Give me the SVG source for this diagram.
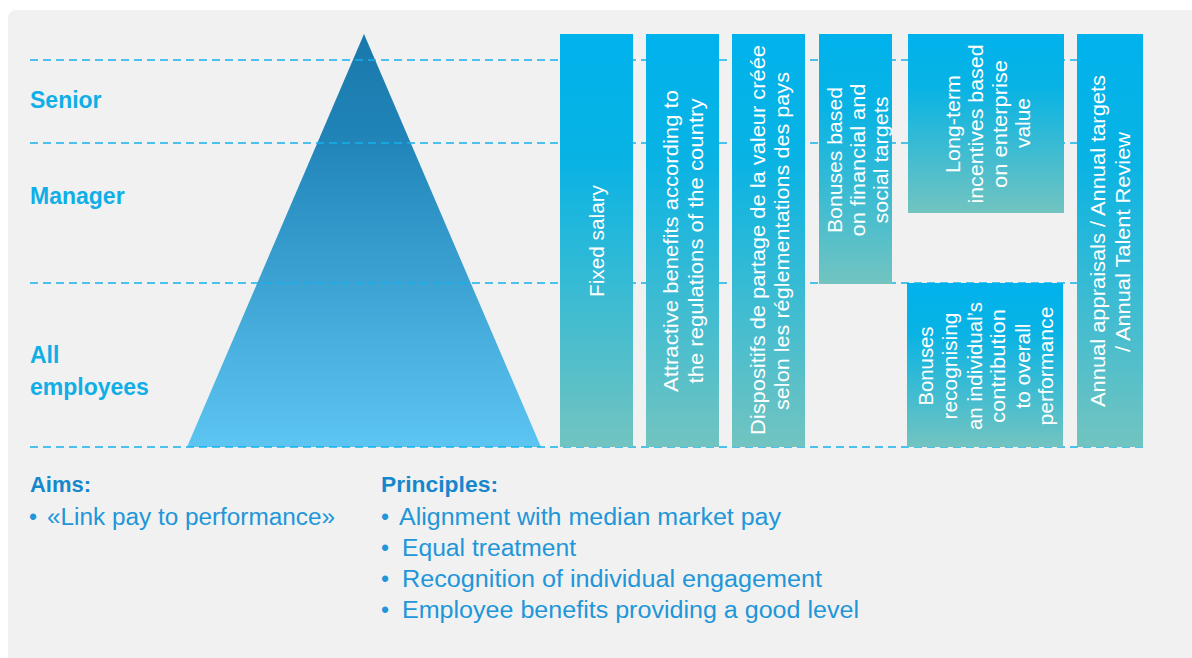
<svg xmlns="http://www.w3.org/2000/svg" width="1192" height="658" viewBox="0 0 1192 658">
<defs>
<linearGradient id="gTri" x1="0" y1="0" x2="0" y2="1">
<stop offset="0" stop-color="#1a78aa"/>
<stop offset="0.25" stop-color="#2084b8"/>
<stop offset="1" stop-color="#5dc5f2"/>
</linearGradient>
<linearGradient id="gBar" x1="0" y1="0" x2="0" y2="1">
<stop offset="0" stop-color="#00b2ec"/>
<stop offset="0.3" stop-color="#08b3e4"/>
<stop offset="1" stop-color="#72c4c0"/>
</linearGradient>
<style>
.lvl{font-family:"Liberation Sans",Arial,sans-serif;font-weight:bold;font-size:23px;fill:#10aee6}
.bt{font-family:"Liberation Sans",Arial,sans-serif;font-size:21px;fill:#ffffff;text-anchor:middle}
.dash{stroke:#14b1e9;stroke-width:1.3;stroke-dasharray:8 5;fill:none}
.bar{fill:url(#gBar)}
.hd{font-family:"Liberation Sans",Arial,sans-serif;font-weight:bold;font-size:22px;fill:#1787cc}
.li{font-family:"Liberation Sans",Arial,sans-serif;font-size:23px;fill:#2196d8}
</style>
</defs>
<rect x="0" y="0" width="1192" height="658" fill="#ffffff"/>
<rect x="8" y="10" width="1190" height="660" rx="8" fill="#f1f1f1"/>

<g id="pyramid">
<polygon points="364,34 541,447 187,447" fill="url(#gTri)"/>
</g>

<g id="connectors">
<line class="dash" x1="30" y1="60" x2="1143" y2="60"/>
<line class="dash" x1="30" y1="143" x2="1143" y2="143"/>
<line class="dash" x1="30" y1="283" x2="1143" y2="283"/>
<line class="dash" x1="30" y1="447" x2="1143" y2="447"/>
</g>

<g id="levels">
<text class="lvl" x="30" y="108">Senior</text>
<text class="lvl" x="30" y="204">Manager</text>
<text class="lvl" x="30" y="363">All</text>
<text class="lvl" x="30" y="395">employees</text>
</g>

<g id="bar-fixed-salary">
<rect class="bar" x="560" y="34" width="73" height="413"/>
<text class="bt" transform="rotate(-90)" x="-241" y="604" textLength="112" lengthAdjust="spacingAndGlyphs">Fixed salary</text>
</g>

<g id="bar-benefits">
<rect class="bar" x="646" y="34" width="73" height="413"/>
<text class="bt" transform="rotate(-90)" x="-241" y="678" textLength="302" lengthAdjust="spacingAndGlyphs">Attractive benefits according to</text>
<text class="bt" transform="rotate(-90)" x="-241" y="703" textLength="285" lengthAdjust="spacingAndGlyphs">the regulations of the country</text>
</g>

<g id="bar-dispositifs">
<rect class="bar" x="732" y="34" width="73" height="413"/>
<text class="bt" transform="rotate(-90)" x="-240" y="765" textLength="390" lengthAdjust="spacingAndGlyphs">Dispositifs de partage de la valeur créée</text>
<text class="bt" transform="rotate(-90)" x="-241" y="789" textLength="338" lengthAdjust="spacingAndGlyphs">selon les réglementations des pays</text>
</g>

<g id="bar-bonuses-targets">
<rect class="bar" x="819" y="34" width="73" height="250"/>
<text class="bt" transform="rotate(-90)" x="-160" y="842" textLength="146" lengthAdjust="spacingAndGlyphs">Bonuses based</text>
<text class="bt" transform="rotate(-90)" x="-160" y="865" textLength="153" lengthAdjust="spacingAndGlyphs">on financial and</text>
<text class="bt" transform="rotate(-90)" x="-160" y="888" textLength="127" lengthAdjust="spacingAndGlyphs">social targets</text>
</g>

<g id="bar-long-term">
<rect class="bar" x="908" y="34" width="156" height="179"/>
<text class="bt" transform="rotate(-90)" x="-124" y="960" textLength="98" lengthAdjust="spacingAndGlyphs">Long-term</text>
<text class="bt" transform="rotate(-90)" x="-124" y="983" textLength="159" lengthAdjust="spacingAndGlyphs">incentives based</text>
<text class="bt" transform="rotate(-90)" x="-124" y="1007" textLength="128" lengthAdjust="spacingAndGlyphs">on enterprise</text>
<text class="bt" transform="rotate(-90)" x="-123" y="1030" textLength="50" lengthAdjust="spacingAndGlyphs">value</text>
</g>

<g id="bar-bonuses-individual">
<rect class="bar" x="907" y="283" width="156" height="164"/>
<text class="bt" transform="rotate(-90)" x="-366" y="933" textLength="79" lengthAdjust="spacingAndGlyphs">Bonuses</text>
<text class="bt" transform="rotate(-90)" x="-366" y="957" textLength="107" lengthAdjust="spacingAndGlyphs">recognising</text>
<text class="bt" transform="rotate(-90)" x="-366" y="982" textLength="128" lengthAdjust="spacingAndGlyphs">an individual’s</text>
<text class="bt" transform="rotate(-90)" x="-366" y="1005" textLength="114" lengthAdjust="spacingAndGlyphs">contribution</text>
<text class="bt" transform="rotate(-90)" x="-366" y="1030" textLength="85" lengthAdjust="spacingAndGlyphs">to overall</text>
<text class="bt" transform="rotate(-90)" x="-366" y="1053" textLength="119" lengthAdjust="spacingAndGlyphs">performance</text>
</g>

<g id="bar-appraisals">
<rect class="bar" x="1077" y="34" width="66" height="413"/>
<text class="bt" transform="rotate(-90)" x="-241" y="1105" textLength="332" lengthAdjust="spacingAndGlyphs">Annual appraisals / Annual targets</text>
<text class="bt" transform="rotate(-90)" x="-242" y="1130" textLength="220" lengthAdjust="spacingAndGlyphs">/ Annual Talent Review</text>
</g>

<g id="aims">
<text class="hd" x="30" y="492" textLength="61" lengthAdjust="spacingAndGlyphs">Aims:</text>
<text class="li" x="29" y="525">•</text>
<text class="li" x="47" y="525" textLength="288" lengthAdjust="spacingAndGlyphs">«Link pay to performance»</text>
</g>

<g id="principles">
<text class="hd" x="381" y="492" textLength="117" lengthAdjust="spacingAndGlyphs">Principles:</text>
<text class="li" x="381" y="525">•</text>
<text class="li" x="399" y="525" textLength="382" lengthAdjust="spacingAndGlyphs">Alignment with median market pay</text>
<text class="li" x="381" y="556">•</text>
<text class="li" x="402" y="556" textLength="174" lengthAdjust="spacingAndGlyphs">Equal treatment</text>
<text class="li" x="381" y="587">•</text>
<text class="li" x="402" y="587" textLength="420" lengthAdjust="spacingAndGlyphs">Recognition of individual engagement</text>
<text class="li" x="381" y="618">•</text>
<text class="li" x="402" y="618" textLength="457" lengthAdjust="spacingAndGlyphs">Employee benefits providing a good level</text>
</g>
</svg>
